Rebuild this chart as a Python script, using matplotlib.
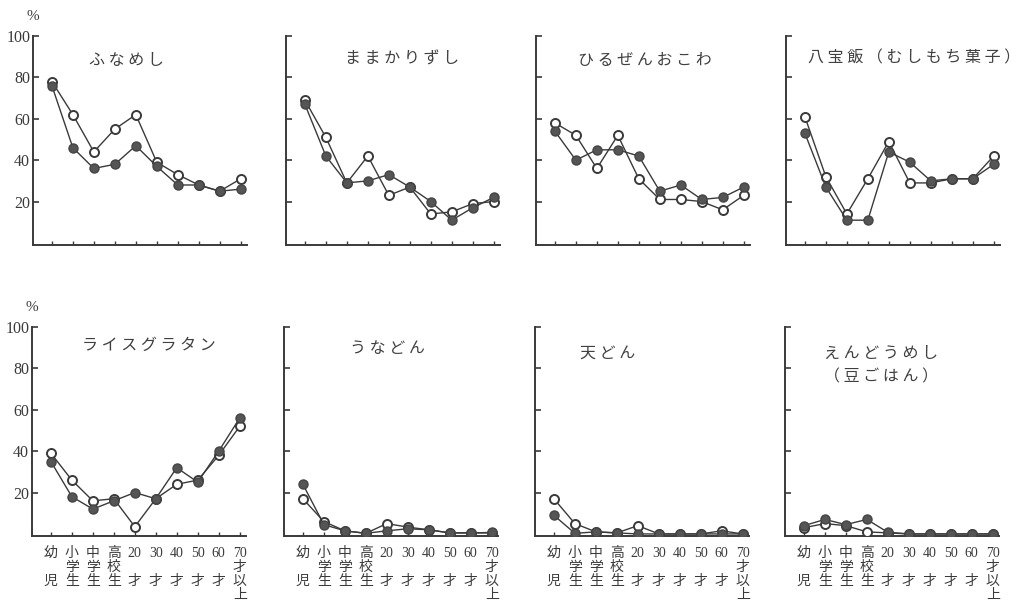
import matplotlib
matplotlib.use("Agg")
import matplotlib.pyplot as plt

#-----------------------
# Data
#-----------------------
cats = ['幼\n \n児', '小\n学\n生', '中\n学\n生', '高\n校\n生', '20\n \n才',
        '30\n \n才', '40\n \n才', '50\n \n才', '60\n \n才', '70\n才\n以\n上']

funa_open = [78, 62, 44, 55, 62, 39, 33, 28, 25, 31]
funa_fill = [76, 46, 36, 38, 47, 37, 28, 28, 25, 26]
mamakari_open = [69, 51, 29, 42, 23, 27, 14, 15, 19, 20]
mamakari_fill = [67, 42, 29, 30, 33, 27, 20, 11, 17, 22]
hiruzen_open = [58, 52, 36, 52, 31, 21, 21, 20, 16, 23]
hiruzen_fill = [54, 40, 45, 45, 42, 25, 28, 21, 22, 27]
happo_open = [61, 32, 14, 31, 49, 29, 29, 31, 31, 42]
happo_fill = [53, 27, 11, 11, 44, 39, 30, 31, 31, 38]
rice_open = [39, 26, 16, 17, 3.5, 17, 24, 26, 38, 52]
rice_fill = [35, 18, 12, 16, 20, 17, 32, 25, 40, 56]
unadon_open = [17, 6, 1.5, 0.3, 5, 3.3, 2, 0.5, 0.5, 0.5]
unadon_fill = [24, 4.5, 1.5, 0.3, 1.5, 2.5, 2, 0.5, 0.5, 0.7]
tendon_open = [17, 5, 1, 0.5, 4, 0, 0, 0, 1.5, 0]
tendon_fill = [9, 0.3, 1, 0.5, 0, 0, 0, 0, 0, 0]
endou_open = [3, 5, 4, 1, 0.5, 0, 0, 0, 0, 0]
endou_fill = [4, 7, 4.5, 7, 0.8, 0, 0, 0, 0, 0]

titles = ['ふ な め し', 'ま ま か り ず し', 'ひ る ぜ ん お こ わ',
          '八 宝 飯 （ む し も ち 菓 子 ）', 'ラ イ ス グ ラ タ ン',
          'う な ど ん', '天 ど ん', 'え ん ど う め し\n（ 豆 ご は ん ）']
opens = [funa_open, mamakari_open, hiruzen_open, happo_open,
         rice_open, unadon_open, tendon_open, endou_open]
fills = [funa_fill, mamakari_fill, hiruzen_fill, happo_fill,
         rice_fill, unadon_fill, tendon_fill, endou_fill]

#-----------------------
# Layout (pixels)
#-----------------------
W, H = 1031, 603
ink = '#3a3a3a'
lefts = [33, 286, 536, 786, 32, 284, 535, 785]
tops = [36] * 4 + [327] * 4
bottoms = [245] * 4 + [536] * 4
title_xy = [(126, 60), (402, 59), (645, 60), (914, 58),
            (149, 345), (387, 349), (608, 353), (881, 365)]
ax_w = 214

serif = ['Liberation Serif', 'Noto Sans CJK JP']
jp = ['Noto Sans CJK JP', 'DejaVu Sans']

fig = plt.figure(figsize=(W / 100, H / 100), dpi=100)
fig.patch.set_facecolor('white')

x = list(range(len(cats)))
for i in range(8):
    ax = fig.add_axes([lefts[i] / W, 1 - bottoms[i] / H, ax_w / W,
                       (bottoms[i] - tops[i]) / H])
    ax.plot(x, opens[i], '-o', color=ink, lw=1.0, ms=6.5, mfc='white',
            mec=ink, mew=1.4, zorder=3)
    ax.plot(x, fills[i], '-o', color=ink, lw=1.0, ms=6.5, mfc='#555555',
            mec='#444444', mew=1.0, zorder=4)
    ax.set_xlim(-0.9, 9.3)
    ax.set_ylim(-1, 100)
    for s in ['top', 'right']:
        ax.spines[s].set_visible(False)
    for s in ['left', 'bottom']:
        ax.spines[s].set_color(ink)
        ax.spines[s].set_linewidth(1.4)
    ax.set_yticks([20, 40, 60, 80, 100])
    ax.set_xticks(x)
    ax.tick_params(axis='y', direction='in', length=4, width=1.2,
                   color=ink, pad=2, labelsize=11.5, labelcolor=ink)
    ax.tick_params(axis='x', direction='in', length=3, width=1.0,
                   color=ink, pad=8)
    if i % 4 == 0:
        for lab in ax.get_yticklabels():
            lab.set_family(serif)
        ax.text(0.0, 1.06, '%', transform=ax.transAxes, ha='center',
                va='bottom', fontsize=11, color=ink, family=serif)
    else:
        ax.set_yticklabels([])
    if i >= 4:
        ax.set_xticklabels(cats, fontsize=10, color=ink, family=serif,
                           va='top', linespacing=1.1)
    else:
        ax.set_xticklabels([])
    tx, ty = title_xy[i]
    fig.text(tx / W, 1 - ty / H, titles[i], ha='center', va='center',
             fontsize=11.5, color='#404040', family=jp, linespacing=1.5)

fig.savefig('out.png', dpi=100, facecolor='white')
